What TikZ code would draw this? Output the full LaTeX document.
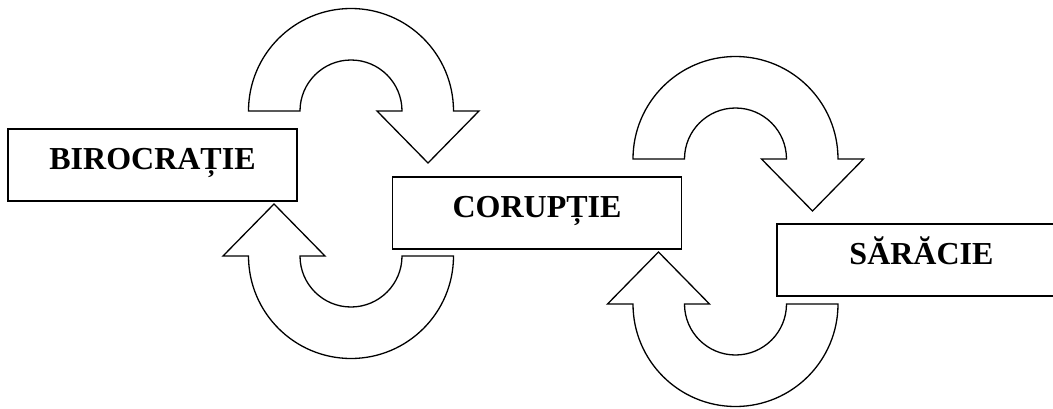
\documentclass[tikz,border=0pt]{standalone}
\usepackage{fontspec}
\setmainfont{Liberation Serif}
\begin{document}
\begin{tikzpicture}[x=1pt,y=1pt,
  labelbox/.style={draw=black, line width=1.9pt, fill=white, rectangle,
    minimum width=289pt, inner xsep=0pt, inner ysep=0pt,
    text height=40pt, text depth=32pt, anchor=base,
    font=\fontsize{32}{38}\selectfont\bfseries},
  blockarrow/.style={draw=black, line width=1.3pt, fill=white, line join=miter},
  pics/uturn over/.style={code={
    \draw[blockarrow] (-102.5,0) arc[start angle=180,end angle=0,radius=102.5]
      -- (128,0) -- (77,-52) -- (26,0) -- (51,0)
      arc[start angle=0,end angle=180,radius=51] -- cycle;}},
  pics/uturn under/.style={code={
    \draw[blockarrow] (102.5,0) arc[start angle=0,end angle=-180,radius=102.5]
      -- (-128,0) -- (-77,52) -- (-26,0) -- (-51,0)
      arc[start angle=180,end angle=360,radius=51] -- cycle;}}
]
\useasboundingbox (0,0) rectangle (1053,408);
\clip (0,0) rectangle (1053,408);
\node[labelbox] (biro) at (152.5,239) {BIROCRAȚIE};
\node[labelbox] (corup) at (537,191) {CORUPȚIE};
\node[labelbox] (sarac) at (921.5,144) {SĂRĂCIE};
\pic at (351,297) {uturn over};
\pic at (351,152) {uturn under};
\pic at (735.5,249) {uturn over};
\pic at (735.5,104) {uturn under};
\end{tikzpicture}
\end{document}
